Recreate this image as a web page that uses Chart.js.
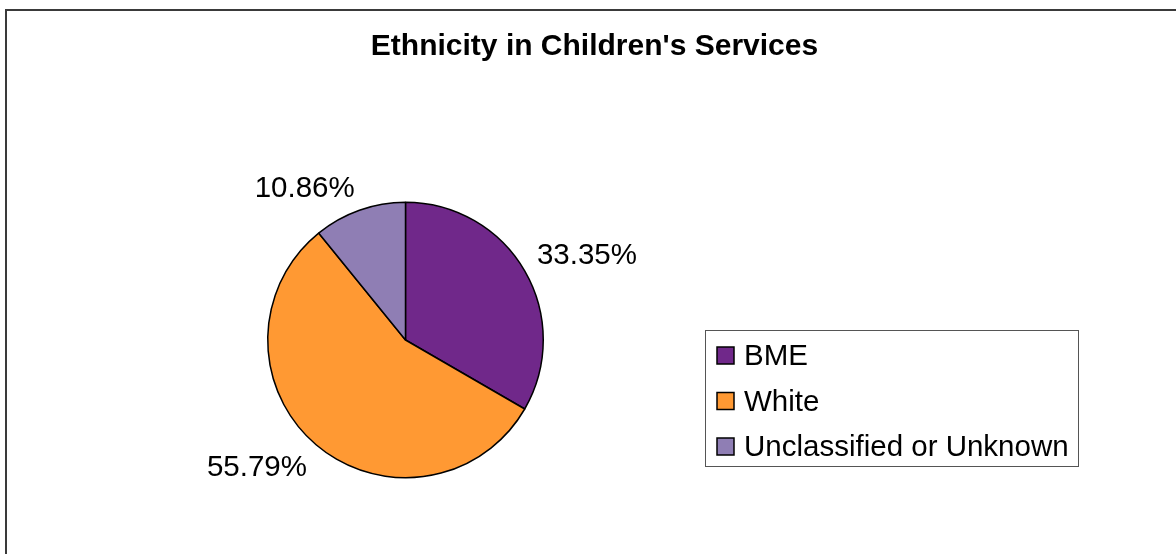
<!DOCTYPE html>
<html>
<head>
<meta charset="utf-8">
<script src="https://cdn.jsdelivr.net/npm/chart.js@4/dist/chart.umd.min.js"></script>
<style>
  html, body { margin: 0; padding: 0; background: #fff; }
  #wrap { width: 1176px; height: 554px; position: relative; }
</style>
</head>
<body>
<div id="wrap"><canvas id="pie"></canvas></div>
<script>
const titleText = "Ethnicity in Children's Services";
const categories = ["BME", "White", "Unclassified or Unknown"];
const shares = [33.35, 55.79, 10.86];
const sliceColors = ["#70288A", "#FF9933", "#8F7EB4"];

const FONT = "'Liberation Sans', Arial, sans-serif";

// frame, title and the boxed legend on the right
const decorPlugin = {
    id: "decor",
    afterDraw(chart) {
        const ctx = chart.ctx;
        ctx.save();
        ctx.strokeStyle = "#3a3a3a";
        ctx.lineWidth = 2;
        ctx.strokeRect(6, 10, 1200, 600);

        ctx.fillStyle = "#000";
        ctx.font = "bold 30px " + FONT;
        ctx.textAlign = "center";
        ctx.textBaseline = "alphabetic";
        ctx.fillText(titleText, 594.5, 55);

        // legend
        ctx.strokeStyle = "#555";
        ctx.lineWidth = 1;
        ctx.strokeRect(705.5, 330.5, 373, 136);
        ctx.font = "29.5px " + FONT;
        ctx.textAlign = "left";
        categories.forEach((name, i) => {
            const base = 365 + i * 45.5;
            ctx.fillStyle = sliceColors[i];
            ctx.fillRect(717, base - 18, 17, 17);
            ctx.strokeStyle = "#000";
            ctx.lineWidth = 1.5;
            ctx.strokeRect(717, base - 18, 17, 17);
            ctx.fillStyle = "#000";
            ctx.fillText(name, 744, base);
        });
        ctx.restore();
    }
};

// percentage labels just outside each slice
const pctLabels = {
    id: "pctLabels",
    afterDatasetsDraw(chart) {
        const ctx = chart.ctx;
        const meta = chart.getDatasetMeta(0);
        const total = shares.reduce((a, b) => a + b, 0);
        ctx.save();
        ctx.font = "29.5px " + FONT;
        ctx.fillStyle = "#000";
        const capH = 21;
        meta.data.forEach((arc, i) => {
            const p = arc.getProps(["x", "y", "startAngle", "endAngle", "outerRadius"], true);
            const mid = (p.startAngle + p.endAngle) / 2;
            const dx = Math.cos(mid), dy = Math.sin(mid);
            const r = p.outerRadius + 14;
            const ax = p.x + dx * r, ay = p.y + dy * r;
            ctx.textAlign = dx >= 0 ? "left" : "right";
            ctx.textBaseline = "alphabetic";
            const by = dy < 0 ? ay : ay + capH;
            ctx.fillText((shares[i] / total * 100).toFixed(2) + "%", ax, by);
        });
        ctx.restore();
    }
};

new Chart(document.getElementById("pie"), {
    type: "pie",
    data: {
        labels: categories,
        datasets: [{
            data: shares,
            backgroundColor: sliceColors,
            borderColor: "#000",
            borderWidth: 1.5
        }]
    },
    options: {
        responsive: true,
        maintainAspectRatio: false,
        animation: false,
        layout: { padding: { left: 267, right: 632, top: 201.5, bottom: 75.5 } },
        plugins: {
            legend: { display: false },
            tooltip: { enabled: false },
            title: { display: false }
        }
    },
    plugins: [pctLabels, decorPlugin]
});
</script>
</body>
</html>
